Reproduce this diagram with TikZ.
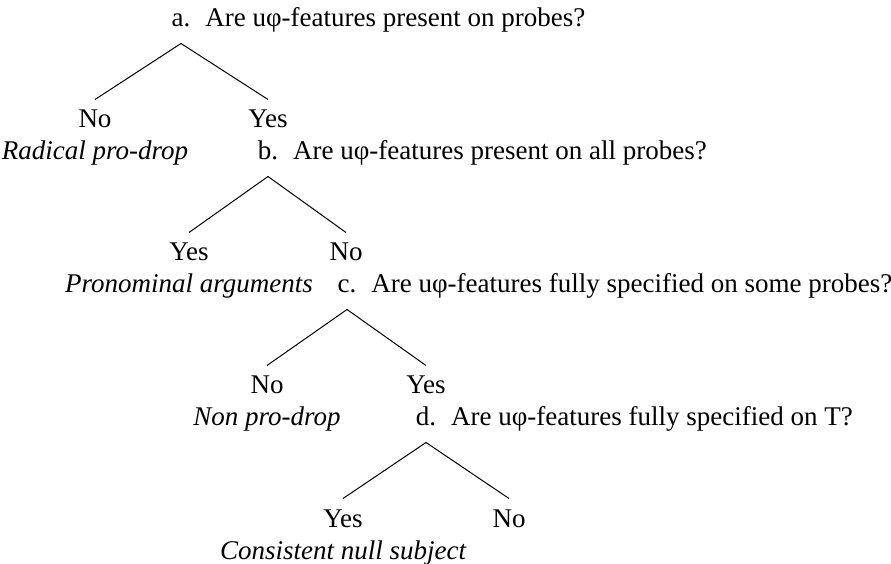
\documentclass[tikz,border=0pt]{standalone}
\usepackage{fontspec}
\setmainfont{Liberation Serif}
\begin{document}
\fontsize{10.8}{13}\selectfont
\begin{tikzpicture}[x=0.4pt, y=-0.4pt,
		qlabel/.style={anchor=base, inner sep=0pt, text depth=6.4pt},
		qtext/.style={anchor=base west, inner sep=0pt},
		answer/.style={anchor=base, inner sep=0pt, text height=11.2pt},
		result/.style={anchor=base, inner sep=0pt, font=\itshape},
		branch/.style={line width=0.4pt}]
		\useasboundingbox (0, 0) rectangle (891, 564);
		%%%%% QUESTION A %%%%%
		\node[qlabel] (qa) at (181, 27) {a.};
		\node[qtext] (qaText) at ([xshift=5.6pt]qa.base east) {Are uφ-features present on probes?};
		\node[answer] (aNo) at (95, 128) {No};
		\node[answer] (aYes) at (268, 128) {Yes};
		\node[result] (aRes) at (95, 160) {Radical pro-drop};
		\draw[branch] (qa.south) -- (aNo.north);
		\draw[branch] (qa.south) -- (aYes.north);
		
		%%%%% QUESTION B %%%%%
		\node[qlabel] (qb) at (268, 160) {b.};
		\node[qtext] (qbText) at ([xshift=5.6pt]qb.base east) {Are uφ-features present on all probes?};
		\node[answer] (bYes) at (189, 261) {Yes};
		\node[answer] (bNo) at (346, 261) {No};
		\node[result] (bRes) at (189, 293) {Pronominal arguments};
		\draw[branch] (qb.south) -- (bYes.north);
		\draw[branch] (qb.south) -- (bNo.north);
		
		%%%%% QUESTION C %%%%%
		\node[qlabel] (qc) at (347, 293) {c.};
		\node[qtext] (qcText) at ([xshift=5.6pt]qc.base east) {Are uφ-features fully specified on some probes?};
		\node[answer] (cNo) at (267, 394) {No};
		\node[answer] (cYes) at (426, 394) {Yes};
		\node[result] (cRes) at (267, 426) {Non pro-drop};
		\draw[branch] (qc.south) -- (cNo.north);
		\draw[branch] (qc.south) -- (cYes.north);
		
		%%%%% QUESTION D %%%%%
		\node[qlabel] (qd) at (426, 426) {d.};
		\node[qtext] (qdText) at ([xshift=5.6pt]qd.base east) {Are uφ-features fully specified on T?};
		\node[answer] (dYes) at (343, 527) {Yes};
		\node[answer] (dNo) at (509, 527) {No};
		\node[result] (dRes) at (343, 559) {Consistent null subject};
		\draw[branch] (qd.south) -- (dYes.north);
		\draw[branch] (qd.south) -- (dNo.north);
	\end{tikzpicture}
\end{document}
